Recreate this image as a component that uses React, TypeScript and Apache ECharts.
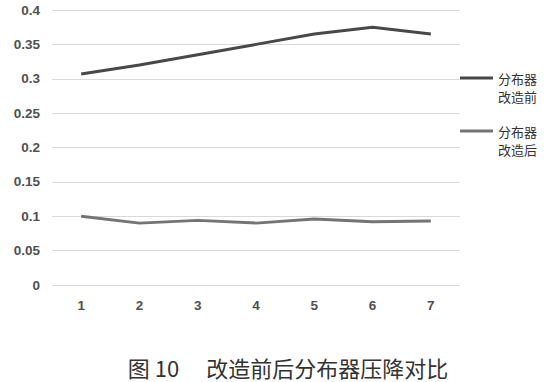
import React, { useEffect, useRef } from "react";
import * as echarts from "echarts";

const categories = ["1", "2", "3", "4", "5", "6", "7"];
const beforeValues = [0.307, 0.32, 0.335, 0.35, 0.365, 0.375, 0.365];
const afterValues = [0.1, 0.09, 0.094, 0.09, 0.096, 0.092, 0.093];
const seriesNames = ["分布器改造前", "分布器改造后"];
const caption = "图 10 \u3000改造前后分布器压降对比";

export default function App() {
  const ref = useRef<HTMLDivElement>(null);
  useEffect(() => {
    if (!ref.current) return;
    const chart = echarts.init(ref.current, undefined, { renderer: "svg" });
    const font = "'Liberation Sans', Arial, sans-serif";
    chart.setOption({
      animation: false,
      backgroundColor: "#ffffff",
      grid: { left: 52, right: 100, top: 10, bottom: 97, containLabel: false },
      legend: {
        orient: "vertical",
        left: 460,
        top: 69,
        padding: 0,
        itemGap: 17,
        itemWidth: 33,
        itemHeight: 36,
        icon: "path://M0,7.5H33V10.5H0Z M0,0H0.01V0.01H0Z M0,36H0.01V36.01H0Z",
        formatter: (name: string) => name.slice(0, 3) + "\n" + name.slice(3),
        textStyle: {
          fontSize: 13,
          lineHeight: 18,
          color: "#333333",
          fontFamily: "'Noto Sans CJK SC', sans-serif",
        },
        data: seriesNames,
      },
      xAxis: {
        type: "category",
        data: categories,
        boundaryGap: true,
        axisLine: { show: false },
        axisTick: { show: false },
        axisLabel: {
          color: "#505050",
          fontSize: 13.5,
          fontWeight: "bold",
          fontFamily: font,
          margin: 13,
        },
      },
      yAxis: {
        type: "value",
        min: 0,
        max: 0.4,
        interval: 0.05,
        axisLine: { show: false },
        axisTick: { show: false },
        splitLine: { lineStyle: { color: "#d9d9d9", width: 1 } },
        axisLabel: {
          color: "#505050",
          fontSize: 13.5,
          fontWeight: "bold",
          fontFamily: font,
          margin: 12,
          formatter: (v: number) => String(parseFloat(v.toFixed(2))),
        },
      },
      series: [
        {
          name: seriesNames[0],
          type: "line",
          data: beforeValues,
          symbol: "none",
          color: "#484848",
          lineStyle: { width: 3, color: "#484848" },
        },
        {
          name: seriesNames[1],
          type: "line",
          data: afterValues,
          symbol: "none",
          color: "#747474",
          lineStyle: { width: 3, color: "#747474" },
        },
      ],
      graphic: [
        {
          type: "text",
          x: 288,
          y: 367,
          style: {
            text: caption,
            fontSize: 22,
            fill: "#333333",
            fontFamily: "'Noto Sans CJK SC', serif",
            align: "center",
            verticalAlign: "middle",
          },
        },
      ],
    });
    return () => chart.dispose();
  }, []);
  return (
    <div
      ref={ref}
      style={{ width: 560, height: 382, position: "absolute", left: 0, top: 0 }}
    />
  );
}
